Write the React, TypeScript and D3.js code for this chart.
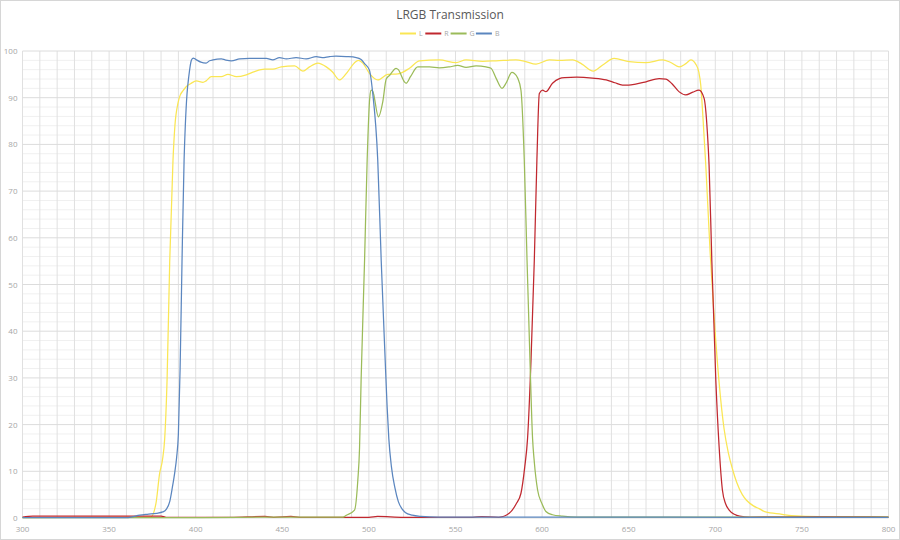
import React from "react";
import * as d3 from "d3";

const seriesNames = ["L", "R", "G", "B"];
const seriesColors = ["#FAE654", "#C0282F", "#9BBB59", "#5B86BF"];

const lWave = [300, 374, 377, 379.2, 380.8, 382.1, 383.5, 385, 386.9, 388, 389.8, 391, 392.7, 394.6, 397, 400.4, 404.2, 406, 409, 414.8, 418.6, 423.5, 429.2, 434, 439.8, 444.6, 449.4, 457.1, 461.9, 465.7, 470.5, 475.4, 479, 483, 487.8, 491.7, 494, 496.5, 500.3, 505.1, 510.9, 516.7, 523.4, 529.2, 540.7, 550.3, 556.1, 565.7, 573.4, 584.9, 590, 596.5, 604.2, 610, 617.6, 623, 629.5, 635, 641.6, 650.3, 659.9, 669.5, 674, 679.1, 683, 685.9, 688.7, 690.5, 691.6, 693, 694.5, 697, 699.5, 702.2, 705.1, 707.5, 709.9, 712.5, 715.6, 718, 722, 725.3, 729, 738.5, 744, 760, 785, 800];
const lValue = [0.1, 0.2, 3, 9.6, 12.4, 17, 30, 55, 76.7, 84, 88.9, 90.5, 91.5, 92.4, 93, 93.6, 93.3, 93.6, 94.5, 94.5, 95, 94.5, 94.9, 95.6, 96.1, 96.1, 96.6, 96.8, 95.7, 96.6, 97.4, 96.6, 95.5, 93.8, 95.6, 97.5, 98, 97.4, 95.2, 93.8, 95, 95.1, 96.3, 97.9, 98.1, 97.5, 98.1, 97.8, 97.9, 98.1, 97.8, 97.2, 98.1, 98, 98.1, 97.2, 95.7, 97, 98.4, 97.7, 97.5, 98.1, 97.6, 96.6, 97.3, 98.1, 97.2, 95.5, 92.7, 85, 75.6, 57, 42, 29, 19, 14, 10.5, 7.5, 5, 3.8, 2.6, 2.0, 1.3, 0.8, 0.5, 0.3, 0.3, 0.2];

const rWave = [300, 306, 380, 383, 420, 440, 445, 455, 460, 480, 500, 505, 520, 540, 560, 565, 575, 581, 585, 587.8, 590, 591.6, 593.6, 595.5, 597, 598.4, 600.3, 602.2, 606, 610, 613, 620, 629, 637, 642, 646.4, 650, 654, 660, 667.6, 671.4, 675, 679, 683, 687, 690.6, 693.5, 695.4, 696.4, 698, 700.3, 702.2, 704.1, 706, 708, 711, 714, 720, 760, 800];
const rValue = [0.2, 0.4, 0.4, 0.15, 0.15, 0.35, 0.15, 0.35, 0.15, 0.15, 0.15, 0.35, 0.15, 0.15, 0.15, 0.3, 0.15, 1, 3, 5.3, 11, 17, 33.8, 55.2, 76.7, 90.9, 91.6, 91.3, 93.1, 94.1, 94.3, 94.4, 94.2, 93.8, 93.2, 92.7, 92.7, 92.9, 93.4, 94.1, 94, 93, 91.3, 90.6, 91.2, 91.6, 89.9, 82.7, 75.6, 55, 29.5, 15.3, 6, 3, 1.7, 0.8, 0.4, 0.2, 0.3, 0.2];

const gWave = [300, 400, 450, 485, 487, 491.7, 493.6, 494.6, 495.5, 497.5, 499, 500.5, 501.3, 502.2, 505.5, 508, 510, 512, 515.7, 517, 520.5, 521.5, 524, 528.2, 535, 540.7, 546.5, 551.3, 556.1, 561.9, 567.6, 570.5, 573.4, 576.9, 579, 582.6, 584, 585.9, 587.8, 589.7, 591.3, 593, 594.5, 595.5, 597.4, 600, 602.2, 606, 611.8, 620, 700, 800];
const gValue = [0.1, 0.1, 0.2, 0.2, 0.6, 1.7, 8.1, 15, 29.5, 55.2, 76.7, 90, 91.6, 91.4, 85.9, 89.1, 94, 94.8, 96.3, 96, 93.4, 93.1, 94.5, 96.6, 96.6, 96.4, 96.6, 96.9, 96.5, 96.8, 96.6, 96.3, 94.2, 92, 93, 95.4, 95.2, 94.2, 91.6, 76.7, 55.2, 33.8, 17, 12, 6, 3, 1.4, 0.7, 0.4, 0.2, 0.2, 0.2];

const bWave = [300, 360, 362, 367.7, 372, 377.3, 381, 383.1, 385, 386.5, 388, 389, 390, 391, 392.1, 393.3, 394, 395, 396, 397.5, 398.5, 400, 403, 406, 408, 410, 414.8, 417, 420.6, 425.4, 431, 440.8, 444.5, 448.4, 452.3, 458, 463.8, 469.6, 473, 477.3, 481, 486.9, 492.7, 495.5, 497.5, 500.3, 502.2, 505.1, 507.1, 509.4, 510.5, 511.5, 513, 515, 517, 519, 521, 525, 530, 540, 800];
const bValue = [0.1, 0.1, 0.15, 0.6, 0.8, 1.0, 1.3, 1.9, 3.5, 6.5, 10, 13, 18, 32, 55, 76.7, 84, 90.9, 94.5, 98, 98.5, 98.2, 97.6, 97.4, 97.9, 98.1, 98.3, 98.1, 97.9, 98.3, 98.4, 98.4, 98.1, 98.6, 98.3, 98.6, 98.3, 98.8, 98.6, 98.8, 98.9, 98.8, 98.6, 98.2, 97.3, 95.9, 91, 76.7, 55.2, 33.8, 24, 17, 11, 6.5, 3.5, 2, 1.2, 0.6, 0.35, 0.2, 0.15];

const seriesWaves = [lWave, rWave, gWave, bWave];
const seriesValues = [lValue, rValue, gValue, bValue];

const xTicks = [300, 350, 400, 450, 500, 550, 600, 650, 700, 750, 800];
const yTicks = [0, 10, 20, 30, 40, 50, 60, 70, 80, 90, 100];
const titleText = "LRGB Transmission";

const W = 900;
const H = 540;

export default function App() {
  const x = d3.scaleLinear().domain([300, 800]).range([22.5, 888.5]);
  const y = d3.scaleLinear().domain([0, 100]).range([518, 51]);
  const line = d3
    .line<[number, number]>()
    .x((d) => x(d[0]))
    .y((d) => y(d[1]))
    .curve(d3.curveMonotoneX);

  const vGrid = d3.range(300, 801, 10);
  const hMinor = d3.range(0, 101, 2).filter((v) => v % 10 !== 0);
  const font = "'Open Sans', 'Noto Sans', sans-serif";

  return (
    <svg
      width={W}
      height={H}
      style={{ position: "absolute", left: 0, top: 0, display: "block", background: "#fff" }}
    >
      <rect x={0.5} y={0.5} width={W - 1} height={H - 1} fill="#fff" stroke="#d6d6d6" />
      {hMinor.map((v) => (
        <line key={"hm" + v} x1={x(300)} x2={x(800)} y1={y(v)} y2={y(v)} stroke="#f0f0f0" strokeWidth={1} />
      ))}
      {vGrid.map((v) => (
        <line key={"v" + v} x1={x(v)} x2={x(v)} y1={y(100)} y2={y(0)} stroke="#e0e0e0" strokeWidth={1} />
      ))}
      {yTicks.map((v) => (
        <line key={"h" + v} x1={x(300)} x2={x(800)} y1={y(v)} y2={y(v)} stroke="#dcdcdc" strokeWidth={1} />
      ))}
      {yTicks.map((v) => (
        <text key={"yt" + v} x={17.5} y={y(v) + 3} fontSize={8} fill="#a6a6a6" textAnchor="end" fontFamily={font}>
          {v}
        </text>
      ))}
      {xTicks.map((v) => (
        <text key={"xt" + v} x={x(v)} y={532} fontSize={8} fill="#a6a6a6" textAnchor="middle" fontFamily={font}>
          {v}
        </text>
      ))}
      {seriesNames.map((name, i) => {
        const pts: [number, number][] = seriesWaves[i].map((w, j) => [w, seriesValues[i][j]]);
        return (
          <path key={"s" + name} d={line(pts) || ""} fill="none" stroke={seriesColors[i]} strokeWidth={1.25} strokeLinejoin="round" />
        );
      })}
      <text x={450} y={19} fontSize={12} fill="#595959" textAnchor="middle" fontFamily={font}>
        {titleText}
      </text>
      {seriesNames.map((name, i) => {
        const x0 = 400 + i * 25.3;
        return (
          <g key={"lg" + name}>
            <line x1={x0} x2={x0 + 16} y1={33.5} y2={33.5} stroke={seriesColors[i]} strokeWidth={2} />
            <text x={x0 + 19} y={36} fontSize={7} fill="#a6a6a6" fontFamily={font}>
              {name}
            </text>
          </g>
        );
      })}
    </svg>
  );
}
